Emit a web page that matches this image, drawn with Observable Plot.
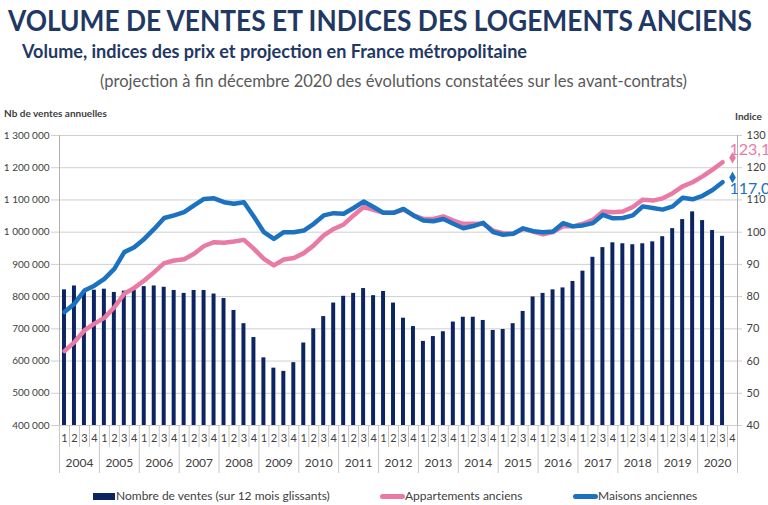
<!DOCTYPE html>
<html><head><meta charset="utf-8">
<script src="https://cdn.jsdelivr.net/npm/d3@7"></script>
<script src="https://cdn.jsdelivr.net/npm/@observablehq/plot@0.6"></script>
<style>
body{margin:0;background:#fff;}
#wrap{position:relative;width:768px;height:505px;overflow:hidden;font-family:Lato,"Open Sans",sans-serif;background:#fff;}
.fit{position:absolute;white-space:nowrap;transform-origin:0 0;line-height:1;}
#title{left:8px;top:6px;font-size:28px;font-weight:700;color:#1f3864;}
#sub{left:22px;top:42px;font-size:18px;font-weight:700;color:#1f3864;}
#paren{left:100px;top:72px;font-size:17px;color:#595959;}
.axl{position:absolute;z-index:2;font-size:10px;font-weight:700;color:#404040;line-height:1;white-space:nowrap;}
#plot{position:absolute;left:0;top:100px;z-index:1;}
.leg{position:absolute;top:490px;font-size:12px;color:#404040;line-height:1;white-space:nowrap;}
.sw{position:absolute;}
</style></head>
<body>
<div id="wrap">
  <div class="fit" id="title" data-w="744">VOLUME DE VENTES ET INDICES DES LOGEMENTS ANCIENS</div>
  <div class="fit" id="sub" data-w="505">Volume, indices des prix et projection en France métropolitaine</div>
  <div class="fit" id="paren" data-w="587">(projection à fin décembre 2020 des évolutions constatées sur les avant-contrats)</div>
  <div id="plot"></div>
  <div class="axl" style="left:4px;top:108px;">Nb de ventes annuelles</div>
  <div class="axl" style="left:735px;top:111px;">Indice</div>
  <div class="sw" style="left:93px;top:493px;width:22px;height:7px;background:#0c2461;"></div>
  <div class="leg" style="left:116px;">Nombre de ventes (sur 12 mois glissants)</div>
  <div class="sw" style="left:380px;top:494px;width:25px;height:5px;border-radius:3px;background:#e97aa5;"></div>
  <div class="leg" style="left:405px;">Appartements anciens</div>
  <div class="sw" style="left:573px;top:494px;width:25px;height:5px;border-radius:3px;background:#1b72c0;"></div>
  <div class="leg" style="left:598px;">Maisons anciennes</div>
</div>
<script>
// ---- data ----
const years = [2004,2005,2006,2007,2008,2009,2010,2011,2012,2013,2014,2015,2016,2017,2018,2019,2020];
const quarters = ["1","2","3","4"];
const ventes = [
  821000,833000,815000,820000,
  823000,813000,817000,820000,
  831000,833000,829000,819000,
  810000,819000,819000,808000,
  794000,757000,716000,673000,
  610000,578000,568000,595000,
  656000,700000,738000,780000,
  801000,810000,825000,803000,
  816000,780000,733000,707000,
  661000,676000,691000,721000,
  736000,736000,726000,695000,
  698000,716000,754000,799000,
  810000,821000,827000,847000,
  879000,922000,952000,967000,
  964000,961000,964000,970000,
  986000,1011000,1039000,1063000,
  1036000,1005000,987000];
const appartements = [
  63.1,65.9,69.5,71.6,
  73.4,76.7,80.9,82.7,
  85.0,87.6,90.4,91.2,
  91.6,93.3,95.7,96.9,
  96.7,97.1,97.6,94.8,
  91.7,89.7,91.5,92.0,
  93.5,95.9,99.0,101.0,
  102.4,105.2,107.8,106.9,
  106.0,106.0,107.0,105.2,
  104.1,104.1,104.9,103.6,
  102.6,102.6,102.6,100.5,
  99.7,99.5,101.0,100.2,
  99.3,100.0,101.8,101.8,
  102.6,103.8,106.4,106.2,
  106.4,107.8,110.1,109.8,
  110.5,112.1,114.2,115.5,
  117.3,119.4,121.7];
const maisons = [
  75.2,77.8,81.9,83.4,
  85.5,88.6,93.8,95.3,
  97.9,101.0,104.4,105.2,
  106.2,108.3,110.3,110.5,
  109.3,108.8,109.3,104.8,
  100.0,97.9,100.0,100.0,
  100.5,102.6,105.2,105.9,
  105.7,107.5,109.5,107.8,
  106.0,106.0,107.2,105.2,
  103.6,103.4,104.1,102.6,
  101.2,101.9,102.9,100.0,
  99.2,99.5,101.2,100.3,
  100.0,100.2,102.8,101.8,
  102.1,102.8,105.4,104.3,
  104.4,105.2,108.0,107.5,
  107.0,108.0,110.7,110.2,
  111.3,113.1,115.5];
const projectionKey = "2020-4";
const projectionValues = [123.1, 117.0];
const projectionLabels = ["123,1", "117,0"];
const leftTicks = [400000,500000,600000,700000,800000,900000,1000000,1100000,1200000,1300000];

// ---- setup ----
const PINK = "#e97aa5", BLUE = "#1b72c0", NAVY = "#0c2461";
const keys = years.flatMap(y => quarters.map(q => `${y}-${q}`));
const rows = ventes.map((v, i) => ({key: keys[i], v, app: appartements[i], mai: maisons[i]}));
const proj = projectionValues.map((v, i) => ({key: projectionKey, v, label: projectionLabels[i], color: i === 0 ? PINK : BLUE}));
const yMin = 400000;
const toY = idx => yMin + (idx - 40) * 10000;
const fr = d3.formatLocale({decimal: ",", thousands: "\u00a0", grouping: [3], currency: ["", "€"]}).format(",d");

const W = 768, H = 405, ML = 59, MR = 31, MT = 35, MB = 80;
const plotW = W - ML - MR, plotH = H - MT - MB;
const step = plotW / keys.length;

const chart = Plot.plot({
  width: W, height: H,
  marginLeft: ML, marginRight: MR, marginTop: MT, marginBottom: MB,
  style: {fontFamily: "Lato, 'Open Sans', sans-serif", background: "transparent", overflow: "visible"},
  x: {type: "band", domain: keys, padding: 0, axis: null},
  y: {domain: [400000, 1300000], axis: null},
  marks: [
    Plot.ruleY(leftTicks, {y: d => d, stroke: "#cfcfcf", strokeWidth: 1, insetLeft: -8, insetRight: -5}),
    Plot.frame({anchor: "left", stroke: "#b0b0b0"}),
    Plot.frame({anchor: "right", stroke: "#b0b0b0"}),
    Plot.barY(rows, {x: "key", y1: () => yMin, y2: "v", fill: NAVY, insetLeft: 3, insetRight: 3}),
    Plot.line(rows, {x: "key", y: d => toY(d.app), stroke: PINK, strokeWidth: 4.5, strokeLinejoin: "round", strokeLinecap: "round"}),
    Plot.line(rows, {x: "key", y: d => toY(d.mai), stroke: BLUE, strokeWidth: 4.5, strokeLinejoin: "round", strokeLinecap: "round"}),
    Plot.dot(proj, {x: "key", y: d => toY(d.v), symbol: "diamond", r: 3.5, fill: d => d.color, stroke: "none"}),
    Plot.text(proj.filter((d, i) => i === 0), {x: "key", y: d => toY(d.v), text: "label", fill: PINK, textAnchor: "start", dx: -3, dy: -8, fontSize: 16}),
    Plot.text(proj.filter((d, i) => i === 1), {x: "key", y: d => toY(d.v), text: "label", fill: BLUE, textAnchor: "start", dx: -3, dy: 11, fontSize: 16}),
    // left tick labels
    Plot.text(leftTicks, {y: d => d, text: d => fr(d), frameAnchor: "left", textAnchor: "end", dx: -10, fontSize: 10, fill: "#404040"}),
    // right tick labels
    Plot.text(leftTicks, {y: d => d, text: d => String(40 + (d - yMin) / 10000), frameAnchor: "right", textAnchor: "start", dx: 9, fontSize: 11, fill: "#404040"}),
    // quarter separators
    Plot.ruleX(keys.filter(k => !k.endsWith("-1")), {x: d => d, dx: -step / 2, stroke: "#c8c8c8", insetTop: plotH, insetBottom: -22}),
    // year separators
    Plot.ruleX(years.map(y => `${y}-1`), {x: d => d, dx: -step / 2, stroke: "#c8c8c8", insetTop: plotH, insetBottom: -48}),
    Plot.ruleX([keys[keys.length - 1]], {x: d => d, dx: step / 2, stroke: "#c8c8c8", insetTop: plotH, insetBottom: -48}),
    // quarter labels
    Plot.text(keys, {x: d => d, text: d => d.split("-")[1], frameAnchor: "bottom", dy: 16, fontSize: 11, fill: "#404040"}),
    // year labels
    Plot.text(years, {x: y => `${y}-2`, dx: step / 2, text: y => String(y), frameAnchor: "bottom", dy: 41, fontSize: 12, fill: "#404040"})
  ]
});
document.getElementById("plot").appendChild(chart);

document.querySelectorAll(".fit").forEach(el => {
  const target = +el.dataset.w;
  const w = el.getBoundingClientRect().width;
  if (w > 0) el.style.transform = `scaleX(${target / w})`;
});
</script>
</body></html>
